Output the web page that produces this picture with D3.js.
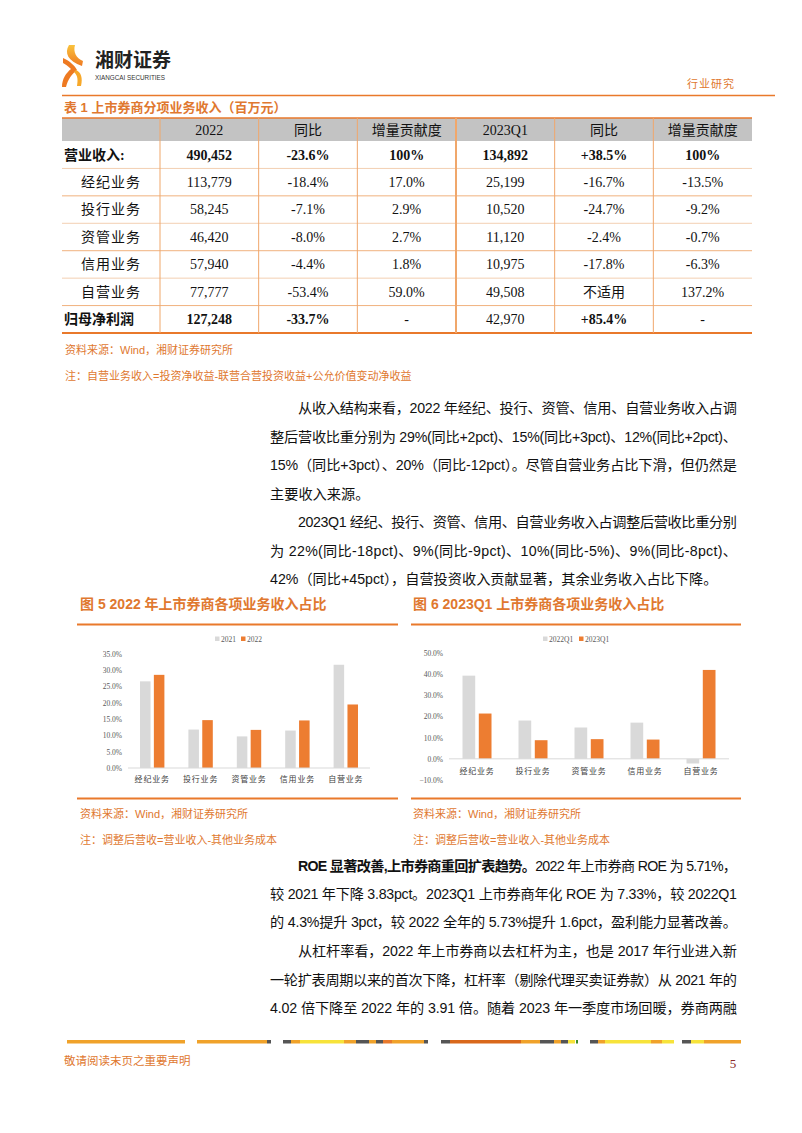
<!DOCTYPE html>
<html><head><meta charset="utf-8">
<script src="https://cdn.jsdelivr.net/npm/d3@7"></script>
<style>
html,body{margin:0;padding:0;background:#fff;}
svg{display:block;}
</style></head>
<body>
<div id="page"></div>
<script>
// ---------------- DATA ----------------
const tableHeaders = ["", "2022", "同比", "增量贡献度", "2023Q1", "同比", "增量贡献度"];
const rowLabels = ["营业收入:", "经纪业务", "投行业务", "资管业务", "信用业务", "自营业务", "归母净利润"];
const rev2022 = ["490,452", "113,779", "58,245", "46,420", "57,940", "77,777", "127,248"];
const yoy2022 = ["-23.6%", "-18.4%", "-7.1%", "-8.0%", "-4.4%", "-53.4%", "-33.7%"];
const contrib2022 = ["100%", "17.0%", "2.9%", "2.7%", "1.8%", "59.0%", "-"];
const rev2023Q1 = ["134,892", "25,199", "10,520", "11,120", "10,975", "49,508", "42,970"];
const yoy2023Q1 = ["+38.5%", "-16.7%", "-24.7%", "-2.4%", "-17.8%", "不适用", "+85.4%"];
const contrib2023Q1 = ["100%", "-13.5%", "-9.2%", "-0.7%", "-6.3%", "137.2%", "-"];

const categories = ["经纪业务", "投行业务", "资管业务", "信用业务", "自营业务"];
const share2021 = [26.6, 11.8, 9.7, 11.5, 31.7];
const share2022 = [28.6, 14.7, 11.7, 14.6, 19.5];
const share2022Q1 = [39.3, 18.1, 14.8, 17.1, -2.2];
const share2023Q1 = [21.4, 8.8, 9.3, 9.1, 42.0];
const ticksChart5 = [0, 5, 10, 15, 20, 25, 30, 35];
const ticksChart6 = [-10, 0, 10, 20, 30, 40, 50];

// ---------------- STYLE ----------------
const ORANGE = "#e9792b";
const ORANGE_TXT = "#e0782f";
const BAR_ORANGE = "#ed7d31";
const BAR_GRAY = "#d9d9d9";
const CJK = "'Noto Sans CJK SC'";
const SERIF = "'Liberation Serif', " + CJK;
const SANS = "'Liberation Sans', " + CJK;

const W = 802, H = 1133;
const svg = d3.select("#page").append("svg").attr("width", W).attr("height", H);
svg.append("rect").attr("width", W).attr("height", H).attr("fill", "#fff");

// ---------------- HEADER ----------------
const defs = svg.append("defs");
const lg = defs.append("linearGradient").attr("id", "lg1").attr("x1", 0).attr("y1", 0).attr("x2", 0).attr("y2", 1);
lg.append("stop").attr("offset", 0).attr("stop-color", "#f9c23c");
lg.append("stop").attr("offset", 1).attr("stop-color", "#ef7a22");
const logo = svg.append("g");
logo.append("path").attr("d", "M69 45 C64 53 68 61 82 66 L83 61 C76 58 73 52 75 45 Z").attr("fill", "url(#lg1)");
logo.append("path").attr("d", "M63 58 C70 61 75 66 77 70 C72 74 68 79 66 87 L62 87 C62 79 66 73 71 69 C68 66 65 64 63 63 Z").attr("fill", "#ee7a22");
logo.append("path").attr("d", "M76 70 C81 72 83 78 81 86 L77 86 C78 80 78 76 74 72 Z").attr("fill", "#f7a82a");
svg.append("text").attr("x", 95).attr("y", 67).text("湘财证券")
  .attr("font-family", CJK).attr("font-weight", 700).attr("font-size", 19).attr("fill", "#222");
svg.append("text").attr("x", 95).attr("y", 80).text("XIANGCAI SECURITIES")
  .attr("font-family", "'Liberation Sans'").attr("font-size", 7.4).attr("fill", "#333")
  .attr("textLength", 70).attr("lengthAdjust", "spacingAndGlyphs");
svg.append("text").attr("x", 735).attr("y", 88).attr("text-anchor", "end").text("行业研究")
  .attr("font-family", CJK).attr("font-size", 11).attr("fill", ORANGE_TXT).attr("letter-spacing", 1);
svg.append("line").attr("x1", 62).attr("x2", 775).attr("y1", 95.5).attr("y2", 95.5)
  .attr("stroke", ORANGE).attr("stroke-width", 1.5);

// ---------------- TABLE ----------------
svg.append("text").attr("x", 64).attr("y", 112).text("表 1 上市券商分项业务收入（百万元）")
  .attr("font-family", SANS).attr("font-weight", 700).attr("font-size", 13).attr("fill", ORANGE_TXT);

const tLeft = 62, tFirstColEnd = 160, tRight = 752;
const colScale = d3.scaleBand().domain(d3.range(1, 7)).range([tFirstColEnd, tRight]);
const rowScale = d3.scaleBand().domain(d3.range(rowLabels.length)).range([141, 333]);
const headTop = 118, headBottom = 141;

svg.append("rect").attr("x", tLeft).attr("y", headTop).attr("width", tRight - tLeft).attr("height", headBottom - headTop)
  .attr("fill", "#c3c3c3");
svg.append("line").attr("x1", tLeft).attr("x2", tRight).attr("y1", headTop).attr("y2", headTop)
  .attr("stroke", ORANGE).attr("stroke-width", 1.5);

rowLabels.forEach((r, i) => {
  const yb = rowScale(i) + rowScale.bandwidth();
  const last = i === rowLabels.length - 1;
  svg.append("line").attr("x1", tLeft).attr("x2", tRight).attr("y1", yb).attr("y2", yb)
    .attr("stroke", last ? ORANGE : (i % 2 === 1 ? "#f0b27e" : "#f3cfb2")).attr("stroke-width", last ? 2 : 1);
});
d3.range(1, 7).forEach(c => {
  const x = colScale(c);
  svg.append("line").attr("x1", x).attr("x2", x).attr("y1", headTop).attr("y2", 333)
    .attr("stroke", "#f0a76b").attr("stroke-width", c === 4 ? 2 : 1);
});
tableHeaders.forEach((h, c) => {
  if (!h) return;
  svg.append("text").attr("x", colScale(c) + colScale.bandwidth() / 2).attr("y", 130).attr("dy", "0.35em")
    .attr("text-anchor", "middle").text(h)
    .attr("font-family", SERIF).attr("font-size", 14).attr("fill", "#111");
});
const cols = [rev2022, yoy2022, contrib2022, rev2023Q1, yoy2023Q1, contrib2023Q1];
const boldCells = {0: [1, 2, 3, 4, 5, 6], 6: [1, 2, 5]};
rowLabels.forEach((lab, i) => {
  const yc = rowScale(i) + rowScale.bandwidth() / 2;
  const isHead = (i === 0 || i === rowLabels.length - 1);
  svg.append("text").attr("x", isHead ? 64 : 111).attr("y", yc).attr("dy", "0.35em")
    .attr("text-anchor", isHead ? "start" : "middle").text(lab)
    .attr("font-family", SERIF).attr("font-size", 14).attr("font-weight", isHead ? 700 : 400)
    .attr("fill", "#111").attr("letter-spacing", isHead ? 0 : 1);
  cols.forEach((arr, ci) => {
    const c = ci + 1;
    const bold = boldCells[i] && boldCells[i].includes(c);
    svg.append("text").attr("x", colScale(c) + colScale.bandwidth() / 2).attr("y", yc).attr("dy", "0.35em")
      .attr("text-anchor", "middle").text(arr[i])
      .attr("font-family", SERIF).attr("font-size", 14).attr("font-weight", bold ? 700 : 400).attr("fill", "#111");
  });
});

function note(x, y, t, size) {
  svg.append("text").attr("x", x).attr("y", y).attr("dy", "0.35em").text(t)
    .attr("font-family", SANS).attr("font-size", size || 11).attr("fill", ORANGE_TXT);
}
note(65, 350, "资料来源：Wind，湘财证券研究所");
note(65, 376, "注：自营业务收入=投资净收益-联营合营投资收益+公允价值变动净收益");

// ---------------- BODY TEXT ----------------
const TEXT_L = 270, TEXT_R = 737, INDENT = 298;
function bodyLine(y, parts, indent, justify) {
  const x = indent ? INDENT : TEXT_L;
  const t = svg.append("text").attr("x", x).attr("y", y).attr("dy", "0.35em")
    .attr("font-family", SANS).attr("font-size", 14.2).attr("fill", "#111");
  parts.forEach(p => {
    const s = typeof p === "string" ? {t: p} : p;
    t.append("tspan").text(s.t).attr("font-weight", s.b ? 700 : 400);
  });
  if (justify) t.attr("textLength", TEXT_R - x).attr("lengthAdjust", "spacing");
}
const LH = 28.7;
bodyLine(408, ["从收入结构来看，2022 年经纪、投行、资管、信用、自营业务收入占调"], true, true);
bodyLine(408 + LH, ["整后营收比重分别为 29%(同比+2pct)、15%(同比+3pct)、12%(同比+2pct)、"], false, true);
bodyLine(408 + 2 * LH, ["15%（同比+3pct）、20%（同比-12pct）。尽管自营业务占比下滑，但仍然是"], false, true);
bodyLine(408 + 3 * LH, ["主要收入来源。"], false, false);
bodyLine(522, ["2023Q1 经纪、投行、资管、信用、自营业务收入占调整后营收比重分别"], true, true);
bodyLine(522 + LH, ["为 22%(同比-18pct)、9%(同比-9pct)、10%(同比-5%)、9%(同比-8pct)、"], false, true);
bodyLine(522 + 2 * LH, ["42%（同比+45pct），自营投资收入贡献显著，其余业务收入占比下降。"], false, false);

bodyLine(866, [{t: "ROE 显著改善,上市券商重回扩表趋势。", b: true}, "2022 年上市券商 ROE 为 5.71%，"], true, true);
bodyLine(866 + 28.2, ["较 2021 年下降 3.83pct。2023Q1 上市券商年化 ROE 为 7.33%，较 2022Q1"], false, true);
bodyLine(866 + 2 * 28.2, ["的 4.3%提升 3pct，较 2022 全年的 5.73%提升 1.6pct，盈利能力显著改善。"], false, true);
bodyLine(951, ["从杠杆率看，2022 年上市券商以去杠杆为主，也是 2017 年行业进入新"], true, true);
bodyLine(951 + 28.6, ["一轮扩表周期以来的首次下降，杠杆率（剔除代理买卖证券款）从 2021 年的"], false, true);
bodyLine(951 + 2 * 28.6, ["4.02 倍下降至 2022 年的 3.91 倍。随着 2023 年一季度市场回暖，券商两融"], false, true);

// ---------------- CHARTS ----------------
function drawChart(cfg) {
  svg.append("text").attr("x", cfg.titleX).attr("y", 604).attr("dy", "0.35em").text(cfg.title)
    .attr("font-family", SANS).attr("font-weight", 700).attr("font-size", 14).attr("fill", ORANGE_TXT);
  svg.append("line").attr("x1", cfg.lineX1).attr("x2", cfg.lineX2).attr("y1", 624.5).attr("y2", 624.5)
    .attr("stroke", ORANGE).attr("stroke-width", 1.8);
  svg.append("line").attr("x1", cfg.lineX1).attr("x2", cfg.lineX2).attr("y1", 798.5).attr("y2", 798.5)
    .attr("stroke", ORANGE).attr("stroke-width", 1.8);
  svg.append("text").attr("x", cfg.titleX).attr("y", 814).attr("dy", "0.35em").text("资料来源：Wind，湘财证券研究所")
    .attr("font-family", SANS).attr("font-size", 11).attr("fill", ORANGE_TXT);
  svg.append("text").attr("x", cfg.titleX).attr("y", 840).attr("dy", "0.35em").text("注：调整后营收=营业收入-其他业务成本")
    .attr("font-family", SANS).attr("font-size", 11).attr("fill", ORANGE_TXT);

  const x0 = d3.scaleBand().domain(categories).range(cfg.xRange);
  const bw = x0.bandwidth();
  const x1 = d3.scaleBand().domain(cfg.seriesNames).range([bw / 2 - cfg.pairHalf, bw / 2 + cfg.pairHalf]).paddingInner(cfg.pad);
  const y = d3.scaleLinear().domain(cfg.yDomain).range(cfg.yRange);
  const g = svg.append("g");

  const yAxis = d3.axisLeft(y).tickValues(cfg.ticks).tickSize(0).tickPadding(0)
    .tickFormat(d => d3.format(".1f")(d) + "%");
  const ya = g.append("g").attr("transform", `translate(${cfg.yLabelX},0)`).call(yAxis);
  ya.select(".domain").remove();
  ya.selectAll("text").attr("font-family", "'Liberation Serif'").attr("font-size", 7.5).attr("fill", "#595959");

  cfg.series.forEach((vals, si) => {
    g.selectAll(null).data(vals).enter().append("rect")
      .attr("x", (d, i) => x0(categories[i]) + x1(cfg.seriesNames[si]))
      .attr("width", x1.bandwidth())
      .attr("y", d => y(Math.max(0, d)))
      .attr("height", d => Math.abs(y(d) - y(0)))
      .attr("fill", cfg.colors[si]);
  });
  g.append("line").attr("x1", cfg.xRange[0]).attr("x2", cfg.xRange[1]).attr("y1", y(0)).attr("y2", y(0))
    .attr("stroke", "#d9d9d9").attr("stroke-width", 1);
  g.selectAll(null).data(categories).enter().append("text")
    .attr("x", d => x0(d) + bw / 2).attr("y", cfg.catY).attr("dy", "0.35em")
    .attr("text-anchor", "middle").text(d => d)
    .attr("font-family", CJK).attr("font-size", 8).attr("fill", "#404040").attr("letter-spacing", 0.8);

  cfg.seriesNames.forEach((s, si) => {
    const lx = cfg.legendX[si];
    g.append("rect").attr("x", lx).attr("y", 636.5).attr("width", 4.5).attr("height", 4.5).attr("fill", cfg.colors[si]);
    g.append("text").attr("x", lx + 6).attr("y", 639).attr("dy", "0.35em").text(s)
      .attr("font-family", "'Liberation Serif'").attr("font-size", 7.5).attr("fill", "#595959");
  });
}

drawChart({
  title: "图 5 2022 年上市券商各项业务收入占比",
  titleX: 80, lineX1: 77, lineX2: 398,
  seriesNames: ["2021", "2022"], series: [share2021, share2022], colors: [BAR_GRAY, BAR_ORANGE],
  xRange: [128, 370], pairHalf: 12.2, pad: 0.24,
  yDomain: [0, 35], yRange: [768, 654], ticks: ticksChart5, yLabelX: 122,
  catY: 779, legendX: [215, 241]
});
drawChart({
  title: "图 6 2023Q1 上市券商各项业务收入占比",
  titleX: 413, lineX1: 411, lineX2: 741,
  seriesNames: ["2022Q1", "2023Q1"], series: [share2022Q1, share2023Q1], colors: [BAR_GRAY, BAR_ORANGE],
  xRange: [449, 729], pairHalf: 14.5, pad: 0.22,
  yDomain: [-10, 50], yRange: [780, 653], ticks: ticksChart6, yLabelX: 443,
  catY: 771, legendX: [543, 579]
});

// ---------------- FOOTER ----------------
const footerSegs = [
  [67, 185, "#f0a22a"], [197, 267, "#f0a22a"], [267, 271, "#555"],
  [283, 291, "#555"], [291, 300, "#f0a22a"], [300, 344, "#f7e33a"], [344, 356, "#f0a22a"],
  [356, 369, "#555"], [369, 376, "#f0a22a"], [376, 383, "#555"], [383, 392, "#e8792c"],
  [392, 424, "#f0a22a"], [424, 428, "#555"],
  [441, 450, "#555"], [450, 521, "#d9681c"], [521, 540, "#f0a22a"], [540, 554, "#555"],
  [554, 561, "#f0a22a"], [561, 568, "#555"], [568, 575, "#f7e33a"], [576, 578, "#3a8a2a"],
  [590, 598, "#555"], [598, 605, "#f0a22a"], [605, 651, "#f7e33a"], [651, 662, "#f0a22a"], [662, 674, "#f7e33a"],
  [682, 691, "#555"], [691, 704, "#f7e33a"], [704, 741, "#f0a22a"]
];
svg.append("g").selectAll("rect").data(footerSegs).enter().append("rect")
  .attr("x", d => d[0]).attr("width", d => d[1] - d[0]).attr("y", 1040).attr("height", 3.5)
  .attr("fill", d => d[2]);
svg.append("text").attr("x", 64).attr("y", 1061).attr("dy", "0.35em").text("敬请阅读末页之重要声明")
  .attr("font-family", CJK).attr("font-size", 11.5).attr("fill", ORANGE_TXT);
svg.append("text").attr("x", 733).attr("y", 1063).attr("dy", "0.35em").attr("text-anchor", "middle").text("5")
  .attr("font-family", "'Liberation Serif'").attr("font-size", 13).attr("fill", "#8b2a2a");
</script>
</body></html>
